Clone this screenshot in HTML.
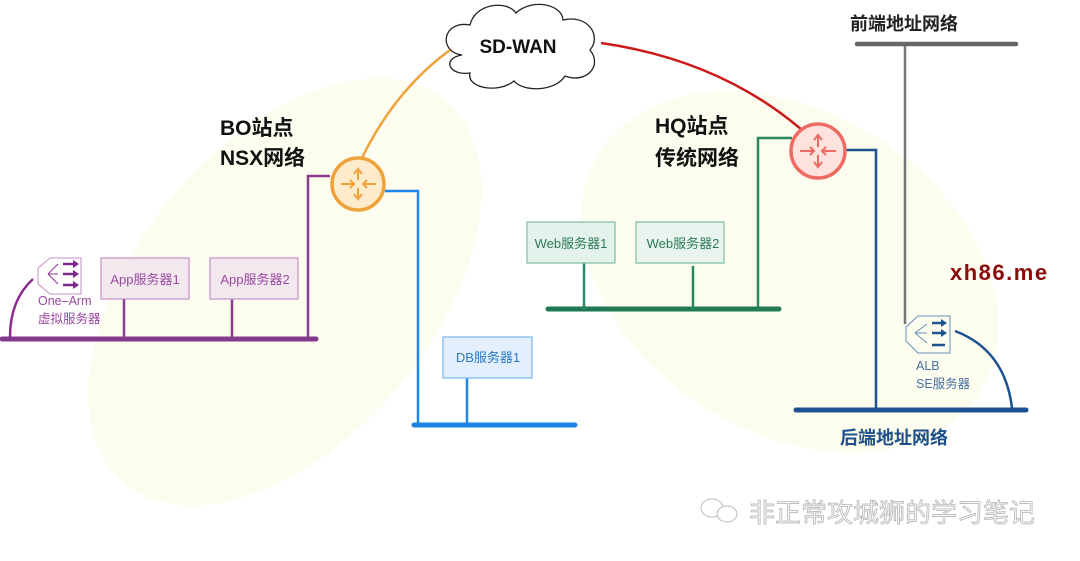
<!DOCTYPE html>
<html><head><meta charset="utf-8"><style>
html,body{margin:0;padding:0;background:#fff;}
svg{display:block;font-family:"Liberation Sans","Noto Sans CJK SC",sans-serif;}
</style></head><body>
<svg width="1080" height="561" viewBox="0 0 1080 561" xmlns="http://www.w3.org/2000/svg">
<rect width="1080" height="561" fill="#fff"/>
<ellipse cx="285" cy="292" rx="250" ry="148" transform="rotate(-50 285 292)" fill="#fdfdef"/>
<ellipse cx="790" cy="272" rx="225" ry="160" transform="rotate(32 790 272)" fill="#fdfdef"/>

<g fill="#fff" stroke="#222" stroke-width="1.3">
<path d="M462,55 C438,52 442,20 470,25 C475,3 507,0 516,13 C532,-2 562,4 563,20 C588,14 602,36 590,50 C603,66 586,84 565,76 C555,92 523,92 514,81 C498,94 466,88 470,73 C448,76 442,58 462,55 Z"/>
</g>
<text x="518" y="53" font-size="19" font-weight="bold" text-anchor="middle" fill="#111">SD-WAN</text>

<path d="M450,50 Q395,90 362,158" fill="none" stroke="#f0a23a" stroke-width="2.5"/>
<path d="M601,43 Q720,60 802,130" fill="none" stroke="#cc1a1a" stroke-width="2.5"/>

<path d="M330,176 H308 V340" fill="none" stroke="#8a3a8f" stroke-width="2.5"/>
<line x1="2" y1="339" x2="316" y2="339" stroke="#843a8c" stroke-width="5" stroke-linecap="round"/>
<line x1="124" y1="299" x2="124" y2="339" stroke="#8a3a8f" stroke-width="2.5"/>
<line x1="232" y1="299" x2="232" y2="339" stroke="#8a3a8f" stroke-width="2.5"/>
<rect x="101" y="258" width="88" height="41" fill="#f3e8ee" stroke="#c68fc8" stroke-width="1.2"/>
<text x="145" y="284" font-size="13" text-anchor="middle" fill="#9a4aa0">App服务器1</text>
<rect x="210" y="258" width="88" height="41" fill="#f3e8ee" stroke="#c68fc8" stroke-width="1.2"/>
<text x="255" y="284" font-size="13" text-anchor="middle" fill="#9a4aa0">App服务器2</text>
<path d="M33,279 Q10,300 10,337" fill="none" stroke="#8a2a8f" stroke-width="2.5"/>
<g stroke="#8a3a8f" fill="none" stroke-width="1">
<path d="M50,258 H81 V294 H50 L38,284 V268 Z" stroke="#c68fc8"/>
<path d="M48,274 L58,264 M48,274 H58 M48,274 L58,284"/>
</g>
<g stroke="#7a2a8a" stroke-width="2.5" fill="#7a2a8a"><line x1="63" y1="264" x2="74" y2="264"/><line x1="63" y1="274" x2="74" y2="274"/><line x1="63" y1="285" x2="74" y2="285"/></g>
<g fill="#7a2a8a"><path d="M73,260 L79,264 L73,268Z M73,270 L79,274 L73,278Z M73,281 L79,285 L73,289Z"/></g>
<text x="38" y="305" font-size="12.5" fill="#9a4aa0">One–Arm</text>
<text x="38" y="323" font-size="12.5" fill="#9a4aa0">虚拟服务器</text>

<path d="M385,191 H418 V425" fill="none" stroke="#1f86ea" stroke-width="2.5"/>
<line x1="414" y1="425" x2="575" y2="425" stroke="#1a84e8" stroke-width="5" stroke-linecap="round"/>
<line x1="467" y1="378" x2="467" y2="425" stroke="#1f86ea" stroke-width="2.5"/>
<rect x="443" y="337" width="89" height="41" fill="#e3effc" stroke="#7ab5ee" stroke-width="1.2"/>
<text x="488" y="362" font-size="13" text-anchor="middle" fill="#2a78c8">DB服务器1</text>

<circle cx="358" cy="184" r="26" fill="#fdebcc" stroke="#f0a23a" stroke-width="3.5"/>
<g stroke="#f0a23a" stroke-width="2" fill="none">
<path d="M358,170 V180 M354,174 L358,169 L362,174 M358,188 V198 M354,194 L358,199 L362,194 M341,184 H354 M350,180 L354,184 L350,188 M363,184 H376 M367,180 L363,184 L367,188"/>
</g>
<text x="220" y="135" font-size="21" font-weight="bold" fill="#111">BO站点</text>
<text x="220" y="165" font-size="21" font-weight="bold" fill="#111">NSX网络</text>

<path d="M792,138 H758 V309" fill="none" stroke="#2a8a5f" stroke-width="2.5"/>
<line x1="548" y1="309" x2="779" y2="309" stroke="#1f7a55" stroke-width="5" stroke-linecap="round"/>
<line x1="584" y1="263" x2="584" y2="309" stroke="#2a8a5f" stroke-width="2.5"/>
<line x1="693" y1="266" x2="693" y2="309" stroke="#2a8a5f" stroke-width="2.5"/>
<rect x="527" y="222" width="88" height="41" fill="#e4f2ec" stroke="#7cbca0" stroke-width="1.2"/>
<text x="571" y="248" font-size="13" text-anchor="middle" fill="#2a7a58">Web服务器1</text>
<rect x="636" y="222" width="88" height="41" fill="#eaf4ee" stroke="#7cbca0" stroke-width="1.2"/>
<text x="683" y="248" font-size="13" text-anchor="middle" fill="#2a7a58">Web服务器2</text>
<text x="655" y="133" font-size="21" font-weight="bold" fill="#111">HQ站点</text>
<text x="655" y="165" font-size="21" font-weight="bold" fill="#111">传统网络</text>

<line x1="905" y1="44" x2="905" y2="324" stroke="#777" stroke-width="2.5"/>
<line x1="857" y1="44" x2="1016" y2="44" stroke="#666" stroke-width="4.5" stroke-linecap="round"/>
<text x="850" y="30" font-size="18" font-weight="bold" fill="#222">前端地址网络</text>

<path d="M845,150 H876 V410" fill="none" stroke="#1d5290" stroke-width="2.5"/>
<line x1="796" y1="410" x2="1026" y2="410" stroke="#1d5290" stroke-width="5" stroke-linecap="round"/>
<path d="M955,331 Q1005,350 1012,408" fill="none" stroke="#1d5290" stroke-width="2.5"/>
<g stroke="#6a90b8" fill="none" stroke-width="1"><path d="M918,316 H950 V353 H918 L906,341 V327 Z"/><path d="M915,333 L927,324 M915,333 H927 M915,333 L927,343"/></g>
<g stroke="#1d5290" stroke-width="2.5"><line x1="932" y1="323" x2="942" y2="323"/><line x1="932" y1="333" x2="942" y2="333"/><line x1="932" y1="345" x2="945" y2="345"/></g>
<g fill="#1d5290"><path d="M941,319 L947,323 L941,327Z M941,329 L947,333 L941,337Z"/></g>
<text x="916" y="370" font-size="12.5" fill="#4a70a0">ALB</text>
<text x="916" y="388" font-size="12.5" fill="#4a70a0">SE服务器</text>
<text x="840" y="444" font-size="18" font-weight="bold" fill="#1d4f8a">后端地址网络</text>

<circle cx="818" cy="151" r="27" fill="#fde2dd" stroke="#ef6a62" stroke-width="3.5"/>
<g stroke="#ef6a62" stroke-width="2" fill="none">
<path d="M818,136 V147 M814,140 L818,135 L822,140 M818,155 V166 M814,162 L818,167 L822,162 M800,151 H814 M810,147 L814,151 L810,155 M822,151 H836 M826,147 L822,151 L826,155"/>
</g>

<text x="950" y="280" font-size="22" font-weight="bold" fill="#8b0a0a" letter-spacing="1.5">xh86.me</text>

<g fill="#fff" stroke="#bbb" stroke-width="1">
<ellipse cx="712" cy="508" rx="11" ry="9"/>
<ellipse cx="727" cy="514" rx="10" ry="8"/>
</g>
<text x="749" y="522" font-size="26" fill="#f6f6f6" stroke="#b0b0b0" stroke-width="0.7">非正常攻城狮的学习笔记</text>
</svg>
</body></html>
